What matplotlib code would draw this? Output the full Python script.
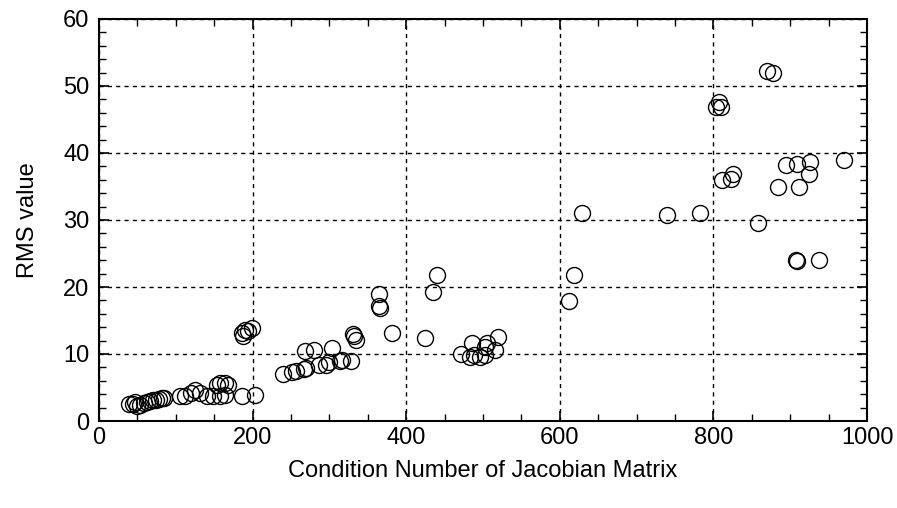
import matplotlib
matplotlib.use("Agg")
import matplotlib.pyplot as plt
from matplotlib.ticker import MultipleLocator

plt.rcParams['font.family'] = ['Liberation Sans', 'DejaVu Sans']

# Condition number (x) and RMS value (y)
cond = [39, 44, 47, 50, 54, 58, 62, 66, 70, 74, 78, 82, 85,
        105, 112, 120, 125, 131, 140, 149, 153, 157, 157, 164, 164, 168, 186, 203,
        186, 188, 190, 194, 199,
        239, 251, 256, 267, 270, 287, 296, 300, 314, 317, 328,
        268, 280, 304, 331, 332, 334, 381,
        364, 366, 365,
        425, 435, 440,
        472, 483, 486, 488, 496, 503, 503, 505, 515, 519,
        612, 618, 629,
        740, 782, 858,
        804, 807, 810, 811, 823, 826,
        870, 878,
        884, 895, 909, 912, 925, 926, 970,
        908, 909, 937]
rms = [2.6, 2.5, 2.8, 2.3, 2.4, 2.7, 2.9, 3.0, 3.1, 3.2, 3.3, 3.4, 3.5,
       3.7, 3.7, 4.2, 4.7, 4.2, 3.8, 3.8, 5.3, 3.8, 5.7, 3.9, 5.7, 5.3, 3.7, 3.9,
       13.2, 12.7, 13.6, 13.4, 13.9,
       7.0, 7.3, 7.5, 7.8, 7.9, 8.3, 8.4, 8.8, 8.9, 9.1, 9.0,
       10.4, 10.6, 10.9, 13.0, 12.7, 12.1, 13.1,
       17.2, 16.9, 19.0,
       12.4, 19.3, 21.8,
       10.0, 9.5, 11.7, 9.8, 9.5, 9.8, 11.0, 11.6, 10.6, 12.5,
       17.9, 21.8, 31.0,
       30.8, 31.0, 29.6,
       46.9, 47.6, 46.9, 36.0, 36.1, 36.8,
       52.3, 51.9,
       34.9, 38.2, 38.4, 34.9, 36.8, 38.7, 38.9,
       24.0, 23.9, 24.0]

fig = plt.figure(figsize=(8.97, 5.08), dpi=100)
ax = fig.add_axes([99/897, 87/508, 768/897, 402/508])

ax.plot(cond, rms, linestyle='none', marker='o', markersize=11.5,
        markerfacecolor='none', markeredgecolor='black', markeredgewidth=1.0)

ax.set_xlim(0, 1000)
ax.set_ylim(0, 60)
ax.xaxis.set_major_locator(MultipleLocator(200))
ax.xaxis.set_minor_locator(MultipleLocator(50))
ax.yaxis.set_major_locator(MultipleLocator(10))
ax.yaxis.set_minor_locator(MultipleLocator(2))
ax.tick_params(which='both', direction='in', top=True, right=True, colors='black')
ax.tick_params(which='major', length=7, width=1.2, labelsize=17)
ax.tick_params(axis='x', which='major', pad=4)
ax.tick_params(axis='y', which='major', pad=7)
ax.tick_params(which='minor', length=5, width=1.0)
for s in ax.spines.values():
    s.set_linewidth(1.5)
    s.set_color('black')

ax.grid(True, which='major', color='black', linestyle=(0, (3, 3)), linewidth=1.0)

ax.set_xlabel('Condition Number of Jacobian Matrix', fontsize=17, labelpad=8)
ax.set_ylabel('RMS value', fontsize=17, labelpad=17)

fig.savefig('out.png', dpi=100)
